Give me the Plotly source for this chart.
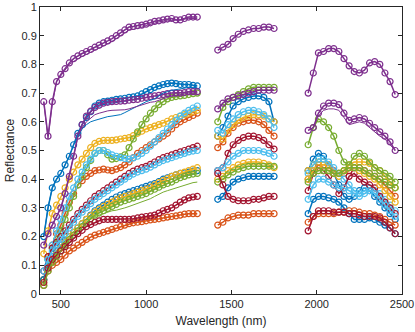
import plotly.graph_objects as go

# wavelength grids of the three measured bands (water bands removed)
wl_b1 = [400, 425, 450, 475, 500, 525, 550, 575, 600, 625, 650, 675, 700, 725, 750, 775,
         800, 825, 850, 875, 900, 925, 950, 975, 1000, 1025, 1050, 1075, 1100, 1125,
         1150, 1175, 1200, 1225, 1250, 1275, 1300]
wl_b2 = [1420, 1450, 1480, 1510, 1540, 1570, 1600, 1630, 1660, 1690, 1720, 1750]
wl_b3 = [1950, 1980, 2010, 2040, 2070, 2100, 2130, 2160, 2190, 2220, 2250, 2280,
         2310, 2340, 2370, 2400, 2430, 2460]

# measured spectra: band 1 (37) + band 2 (12) + band 3 (18)
b1 = [0.20, 0.30, 0.37, 0.40, 0.42, 0.45, 0.48, 0.52, 0.56, 0.59, 0.615, 0.635, 0.655, 0.665, 0.67, 0.672, 0.675, 0.678, 0.68,
      0.682, 0.685, 0.687, 0.69, 0.697, 0.705, 0.712, 0.72, 0.725, 0.73, 0.733, 0.735, 0.733, 0.73, 0.73, 0.73, 0.727, 0.725,
      0.55, 0.58, 0.62, 0.655, 0.67, 0.68, 0.685, 0.69, 0.69, 0.685, 0.67, 0.60,
      0.43, 0.47, 0.49, 0.48, 0.45, 0.42, 0.38, 0.34, 0.33, 0.34, 0.36, 0.37, 0.36, 0.34, 0.32, 0.30, 0.28, 0.26]
o1 = [0.05, 0.13, 0.17, 0.21, 0.24, 0.28, 0.32, 0.35, 0.38, 0.395, 0.41, 0.42, 0.43, 0.432, 0.435, 0.432, 0.43, 0.435, 0.44,
      0.45, 0.46, 0.475, 0.49, 0.50, 0.51, 0.52, 0.53, 0.54, 0.55, 0.56, 0.575, 0.59, 0.60, 0.608, 0.615, 0.622, 0.63,
      0.51, 0.53, 0.56, 0.58, 0.595, 0.60, 0.605, 0.605, 0.60, 0.59, 0.57, 0.55,
      0.40, 0.43, 0.45, 0.44, 0.44, 0.43, 0.42, 0.42, 0.43, 0.44, 0.44, 0.43, 0.42, 0.41, 0.40, 0.38, 0.36, 0.34]
y1 = [0.14, 0.22, 0.28, 0.31, 0.34, 0.37, 0.40, 0.425, 0.45, 0.47, 0.49, 0.51, 0.525, 0.532, 0.535, 0.535, 0.535, 0.537, 0.54,
      0.542, 0.545, 0.552, 0.56, 0.567, 0.575, 0.58, 0.585, 0.59, 0.595, 0.602, 0.61, 0.615, 0.62, 0.625, 0.63, 0.635, 0.64,
      0.55, 0.54, 0.57, 0.59, 0.605, 0.615, 0.62, 0.625, 0.625, 0.62, 0.61, 0.60,
      0.43, 0.45, 0.46, 0.46, 0.45, 0.42, 0.41, 0.43, 0.45, 0.46, 0.46, 0.46, 0.455, 0.44, 0.43, 0.41, 0.39, 0.37]
p1 = [0.67, 0.55, 0.67, 0.74, 0.765, 0.785, 0.805, 0.82, 0.83, 0.838, 0.845, 0.852, 0.86, 0.867, 0.875, 0.882, 0.89, 0.90, 0.91,
      0.92, 0.93, 0.932, 0.935, 0.937, 0.94, 0.945, 0.95, 0.952, 0.955, 0.958, 0.96, 0.955, 0.955, 0.96, 0.965, 0.965, 0.965,
      0.85, 0.86, 0.87, 0.89, 0.905, 0.915, 0.92, 0.925, 0.925, 0.93, 0.93, 0.925,
      0.70, 0.77, 0.84, 0.845, 0.855, 0.855, 0.845, 0.82, 0.795, 0.775, 0.77, 0.78, 0.805, 0.81, 0.80, 0.77, 0.74, 0.695]
g1 = [0.05, 0.12, 0.16, 0.19, 0.22, 0.26, 0.30, 0.34, 0.38, 0.41, 0.44, 0.465, 0.49, 0.50, 0.50, 0.485, 0.47, 0.472, 0.478,
      0.485, 0.51, 0.54, 0.565, 0.59, 0.61, 0.63, 0.645, 0.66, 0.67, 0.68, 0.685, 0.688, 0.69, 0.692, 0.695, 0.698, 0.70,
      0.60, 0.65, 0.67, 0.685, 0.695, 0.705, 0.715, 0.72, 0.72, 0.72, 0.72, 0.72,
      0.52, 0.58, 0.61, 0.60, 0.58, 0.55, 0.50, 0.46, 0.45, 0.48, 0.49, 0.48, 0.46, 0.44, 0.43, 0.42, 0.41, 0.39]
c1 = [0.08, 0.12, 0.17, 0.22, 0.26, 0.30, 0.34, 0.37, 0.40, 0.425, 0.45, 0.47, 0.49, 0.50, 0.50, 0.493, 0.485, 0.48, 0.475,
      0.472, 0.47, 0.474, 0.48, 0.49, 0.50, 0.515, 0.53, 0.545, 0.56, 0.575, 0.59, 0.605, 0.62, 0.63, 0.64, 0.648, 0.655,
      0.57, 0.56, 0.59, 0.61, 0.625, 0.635, 0.64, 0.64, 0.635, 0.625, 0.61, 0.58,
      0.42, 0.45, 0.47, 0.47, 0.46, 0.44, 0.42, 0.40, 0.38, 0.36, 0.35, 0.36, 0.37, 0.36, 0.35, 0.33, 0.31, 0.29]
r1 = [0.08, 0.13, 0.16, 0.18, 0.20, 0.22, 0.24, 0.26, 0.28, 0.295, 0.31, 0.325, 0.34, 0.35, 0.36, 0.37, 0.38, 0.39, 0.40,
      0.41, 0.42, 0.428, 0.435, 0.44, 0.445, 0.452, 0.46, 0.468, 0.475, 0.48, 0.485, 0.49, 0.495, 0.50, 0.505, 0.51, 0.515,
      0.43, 0.44, 0.49, 0.52, 0.535, 0.545, 0.55, 0.55, 0.545, 0.535, 0.52, 0.505,
      0.36, 0.42, 0.44, 0.43, 0.41, 0.38, 0.35, 0.37, 0.41, 0.42, 0.40, 0.39, 0.38, 0.37, 0.34, 0.32, 0.30, 0.28]
b2 = [0.05, 0.10, 0.13, 0.15, 0.17, 0.185, 0.20, 0.215, 0.23, 0.245, 0.26, 0.275, 0.29, 0.30, 0.31, 0.32, 0.33, 0.338, 0.345,
      0.35, 0.355, 0.36, 0.365, 0.37, 0.375, 0.38, 0.385, 0.392, 0.40, 0.405, 0.41, 0.415, 0.42, 0.422, 0.425, 0.428, 0.43,
      0.33, 0.34, 0.37, 0.39, 0.40, 0.405, 0.41, 0.41, 0.41, 0.41, 0.41, 0.41,
      0.28, 0.33, 0.34, 0.34, 0.335, 0.33, 0.32, 0.30, 0.28, 0.26, 0.26, 0.26, 0.265, 0.26, 0.25, 0.24, 0.23, 0.21]
o2 = [0.03, 0.08, 0.10, 0.11, 0.12, 0.135, 0.15, 0.16, 0.17, 0.18, 0.19, 0.198, 0.205, 0.21, 0.215, 0.22, 0.225, 0.23, 0.235,
      0.24, 0.245, 0.248, 0.25, 0.252, 0.255, 0.258, 0.26, 0.262, 0.265, 0.268, 0.27, 0.272, 0.275, 0.278, 0.28, 0.28, 0.28,
      0.24, 0.25, 0.265, 0.27, 0.275, 0.275, 0.275, 0.28, 0.28, 0.28, 0.28, 0.28,
      0.25, 0.27, 0.28, 0.28, 0.28, 0.28, 0.285, 0.285, 0.29, 0.29, 0.285, 0.28, 0.28, 0.275, 0.27, 0.26, 0.25, 0.24]
y2 = [0.04, 0.09, 0.12, 0.14, 0.16, 0.18, 0.20, 0.215, 0.23, 0.245, 0.26, 0.272, 0.285, 0.295, 0.305, 0.312, 0.32, 0.328, 0.335,
      0.34, 0.345, 0.35, 0.355, 0.36, 0.365, 0.372, 0.38, 0.388, 0.395, 0.402, 0.41, 0.415, 0.42, 0.425, 0.43, 0.435, 0.44,
      0.40, 0.41, 0.43, 0.44, 0.45, 0.455, 0.46, 0.46, 0.46, 0.455, 0.45, 0.44,
      0.40, 0.43, 0.44, 0.44, 0.43, 0.42, 0.42, 0.43, 0.44, 0.44, 0.43, 0.42, 0.41, 0.40, 0.38, 0.36, 0.34, 0.32]
p2 = [0.17, 0.21, 0.24, 0.27, 0.30, 0.35, 0.41, 0.48, 0.55, 0.59, 0.62, 0.637, 0.65, 0.658, 0.665, 0.668, 0.67, 0.671, 0.672,
      0.673, 0.675, 0.677, 0.678, 0.682, 0.685, 0.688, 0.69, 0.692, 0.695, 0.698, 0.70, 0.70, 0.70, 0.702, 0.705, 0.705, 0.705,
      0.645, 0.665, 0.68, 0.685, 0.69, 0.695, 0.70, 0.705, 0.71, 0.71, 0.71, 0.71,
      0.57, 0.58, 0.63, 0.655, 0.665, 0.665, 0.66, 0.63, 0.605, 0.61, 0.615, 0.61, 0.595, 0.58, 0.565, 0.55, 0.53, 0.50]
g2 = [0.03, 0.08, 0.11, 0.13, 0.15, 0.17, 0.19, 0.205, 0.22, 0.235, 0.25, 0.262, 0.275, 0.282, 0.29, 0.298, 0.305, 0.312, 0.32,
      0.325, 0.33, 0.335, 0.34, 0.345, 0.35, 0.358, 0.365, 0.372, 0.38, 0.385, 0.39, 0.398, 0.405, 0.41, 0.415, 0.418, 0.42,
      0.39, 0.40, 0.415, 0.425, 0.435, 0.44, 0.445, 0.445, 0.445, 0.445, 0.445, 0.445,
      0.39, 0.42, 0.43, 0.43, 0.43, 0.42, 0.42, 0.43, 0.44, 0.44, 0.44, 0.43, 0.42, 0.41, 0.40, 0.39, 0.38, 0.37]
c2 = [0.08, 0.12, 0.15, 0.17, 0.19, 0.21, 0.23, 0.25, 0.27, 0.285, 0.30, 0.315, 0.33, 0.34, 0.35, 0.36, 0.37, 0.38, 0.39,
      0.40, 0.41, 0.418, 0.425, 0.43, 0.435, 0.442, 0.45, 0.458, 0.465, 0.47, 0.475, 0.48, 0.485, 0.49, 0.495, 0.498, 0.50,
      0.43, 0.44, 0.46, 0.48, 0.49, 0.50, 0.50, 0.50, 0.50, 0.495, 0.49, 0.48,
      0.33, 0.38, 0.40, 0.40, 0.39, 0.38, 0.37, 0.37, 0.36, 0.35, 0.34, 0.35, 0.36, 0.35, 0.33, 0.31, 0.29, 0.27]
r2 = [0.04, 0.09, 0.12, 0.135, 0.15, 0.165, 0.18, 0.195, 0.21, 0.222, 0.235, 0.242, 0.25, 0.255, 0.26, 0.26, 0.26, 0.26, 0.26,
      0.26, 0.26, 0.262, 0.265, 0.268, 0.27, 0.272, 0.275, 0.282, 0.29, 0.295, 0.30, 0.31, 0.32, 0.328, 0.335, 0.338, 0.34,
      0.42, 0.38, 0.34, 0.33, 0.325, 0.325, 0.325, 0.33, 0.33, 0.335, 0.34, 0.34,
      0.22, 0.27, 0.29, 0.29, 0.29, 0.285, 0.285, 0.285, 0.28, 0.28, 0.275, 0.27, 0.27, 0.27, 0.265, 0.25, 0.23, 0.21]

# predicted spectra that show away from the measured ones
p1_line_b1 = [0.67, 0.54, 0.66, 0.74, 0.76, 0.78, 0.80, 0.81, 0.82, 0.828, 0.835, 0.842, 0.85, 0.857, 0.865, 0.872, 0.88,
              0.89, 0.90, 0.91, 0.92, 0.922, 0.925, 0.93, 0.935, 0.94, 0.945, 0.948, 0.95, 0.952, 0.955, 0.955, 0.955,
              0.958, 0.96, 0.96, 0.96]
b1_line_b1 = [0.20, 0.30, 0.37, 0.40, 0.42, 0.45, 0.48, 0.52, 0.55, 0.575, 0.59, 0.60, 0.605, 0.61, 0.615, 0.618, 0.62,
              0.622, 0.625, 0.632, 0.64, 0.648, 0.655, 0.662, 0.67, 0.675, 0.68, 0.69, 0.70, 0.705, 0.71, 0.712, 0.715,
              0.718, 0.72, 0.72, 0.72]
p2_line_b1 = [0.17, 0.21, 0.24, 0.27, 0.30, 0.35, 0.41, 0.48, 0.55, 0.58, 0.60, 0.613, 0.625, 0.63, 0.635, 0.638, 0.64,
              0.64, 0.64, 0.642, 0.645, 0.65, 0.655, 0.66, 0.665, 0.668, 0.67, 0.675, 0.68, 0.685, 0.69, 0.692, 0.695,
              0.698, 0.70, 0.70, 0.70]
g2_line_b1 = [0.03, 0.08, 0.11, 0.13, 0.15, 0.17, 0.19, 0.205, 0.22, 0.235, 0.25, 0.262, 0.27, 0.275, 0.28, 0.285, 0.29,
              0.292, 0.295, 0.30, 0.305, 0.31, 0.315, 0.32, 0.325, 0.332, 0.34, 0.348, 0.355, 0.36, 0.365, 0.37, 0.375,
              0.38, 0.385, 0.388, 0.39]
p2_line_b3 = [0.57, 0.58, 0.62, 0.64, 0.645, 0.645, 0.64, 0.615, 0.59, 0.595, 0.60, 0.595, 0.58, 0.565, 0.55, 0.54, 0.52, 0.50]

colors = ["#0072BD", "#D95319", "#EDB120", "#7E2F8E", "#77AC30", "#4DBEEE", "#A2142F"]
measured = [b1, o1, y1, p1, g1, c1, r1, b2, o2, y2, p2, g2, c2, r2]


def with_gaps(vals):
    n1, n2 = len(wl_b1), len(wl_b2)
    x = wl_b1 + [None] + wl_b2 + [None] + wl_b3
    y = vals[:n1] + [None] + vals[n1:n1 + n2] + [None] + vals[n1 + n2:]
    return x, y


fig = go.Figure()

for i, vals in enumerate(measured):
    col = colors[i % 7]
    x, y = with_gaps(vals)
    fig.add_trace(go.Scatter(
        x=x, y=y, mode="lines+markers",
        line=dict(color=col, width=1.5),
        marker=dict(symbol="circle-open", size=6, color=col, line=dict(width=1.2)),
        showlegend=False,
    ))

for vals, wls, col in [
    (p1_line_b1, wl_b1, colors[3]),
    (b1_line_b1, wl_b1, colors[0]),
    (p2_line_b1, wl_b1, colors[3]),
    (g2_line_b1, wl_b1, colors[4]),
    (p2_line_b3, wl_b3, colors[3]),
]:
    fig.add_trace(go.Scatter(x=wls, y=vals, mode="lines",
                             line=dict(color=col, width=1), showlegend=False))

axis = dict(
    showline=True, linecolor="#262626", linewidth=1, mirror="ticks",
    ticks="inside", ticklen=4, tickcolor="#262626", showgrid=False, zeroline=False,
    tickfont=dict(size=11, color="#262626"), automargin=False,
)

fig.update_layout(
    width=415, height=332,
    margin=dict(l=40, r=13, t=7, b=38),
    paper_bgcolor="white", plot_bgcolor="white",
    font=dict(family="Liberation Sans, Arial, sans-serif", color="#262626"),
    xaxis=dict(axis, range=[378, 2500], tickvals=[500, 1000, 1500, 2000, 2500],
               title=dict(text="Wavelength (nm)", font=dict(size=12), standoff=7)),
    yaxis=dict(axis, range=[0, 1], dtick=0.1,
               title=dict(text="Reflectance", font=dict(size=12), standoff=4)),
)

# the page body has a default 8px margin; drop it so the figure sits at the corner
fig.write_html("out.html", config={"displayModeBar": False},
               post_script="document.body.style.margin='0px';")
